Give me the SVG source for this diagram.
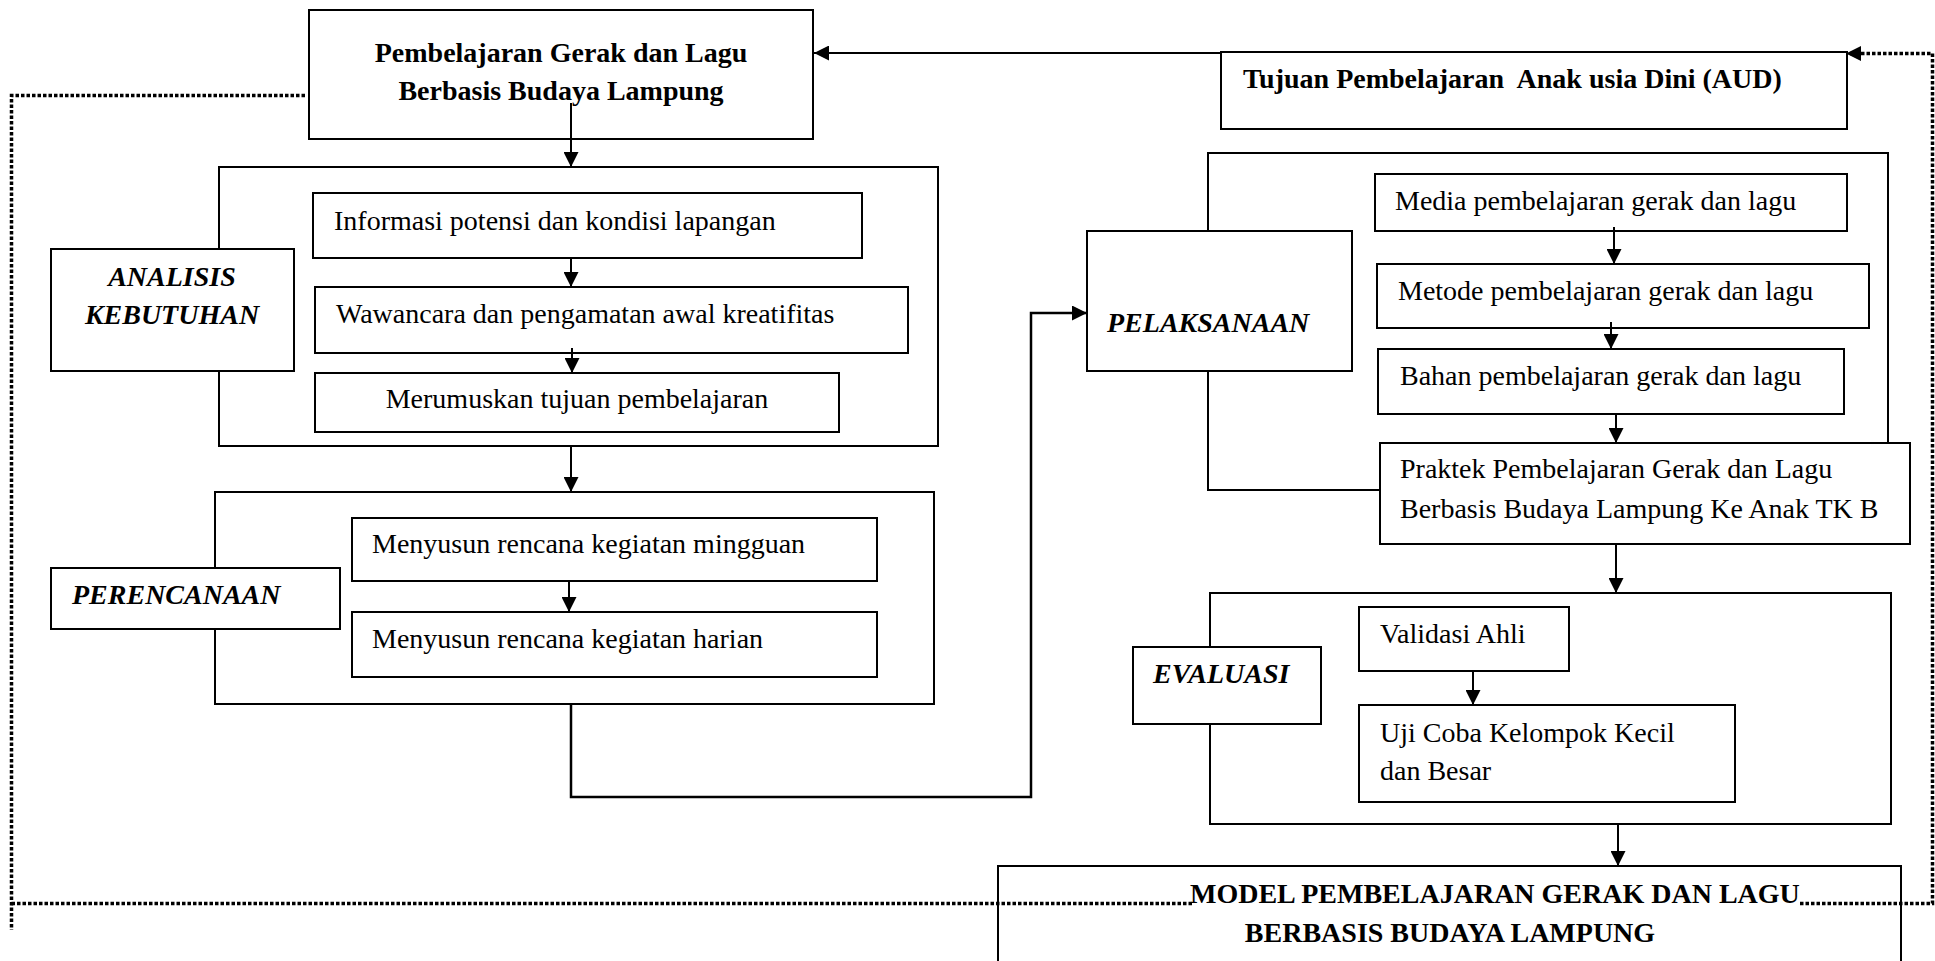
<svg xmlns="http://www.w3.org/2000/svg" width="1935" height="961" viewBox="0 0 1935 961">
<style>
.box{fill:#fff;stroke:#000;stroke-width:2}
.frame{fill:none;stroke:#000;stroke-width:2}
.con{fill:none;stroke:#000;stroke-width:2}
.dot{fill:none;stroke:#000;stroke-width:3.5;stroke-dasharray:3.5 2}
text{font-family:"Liberation Serif","Times New Roman",serif;font-size:28px;fill:#000;white-space:pre}
.b{font-weight:bold}
.bi{font-weight:bold;font-style:italic}
.c{text-anchor:middle}
</style>
<defs>
<marker id="ah" viewBox="0 0 15 15" refX="15" refY="7.5" markerWidth="15" markerHeight="15" orient="auto" markerUnits="userSpaceOnUse">
<path d="M0,0 L15,7.5 L0,15 z" fill="#000"/>
</marker>
</defs>

<g id="frames">
<rect class="frame" x="219" y="167" width="719" height="279"/>
<rect class="frame" x="215" y="492" width="719" height="212"/>
<path class="frame" d="M1380,490 L1208,490 L1208,153 L1888,153 L1888,443"/>
<rect class="frame" x="1210" y="593" width="681" height="231"/>
</g>

<g id="connectors">
<path class="con" d="M1221,53 L814,53" marker-end="url(#ah)"/>
<path class="con" d="M571,103 L571,167" marker-end="url(#ah)"/>
<path class="con" d="M571,258 L571,287" marker-end="url(#ah)"/>
<path class="con" d="M572,348 L572,373" marker-end="url(#ah)"/>
<path class="con" d="M571,446 L571,492" marker-end="url(#ah)"/>
<path class="con" d="M569,579 L569,612" marker-end="url(#ah)"/>
<path class="con" d="M571,704 L571,797 L1031,797 L1031,313 L1087,313" style="stroke-width:2.5" marker-end="url(#ah)"/>
<path class="con" d="M1614,227 L1614,264" marker-end="url(#ah)"/>
<path class="con" d="M1611,322 L1611,349" marker-end="url(#ah)"/>
<path class="con" d="M1616,414 L1616,443" marker-end="url(#ah)"/>
<path class="con" d="M1616,544 L1616,593" marker-end="url(#ah)"/>
<path class="con" d="M1473,671 L1473,705" marker-end="url(#ah)"/>
<path class="con" d="M1618,824 L1618,866" marker-end="url(#ah)"/>
<path class="dot" d="M305,95.5 L11.5,95.5 L11.5,930"/>
<path class="dot" d="M11.5,903.5 L1194,903.5"/>
<path class="dot" d="M1800,903.5 L1932.5,903.5 L1932.5,53.5 L1846,53.5" marker-end="url(#ah)"/>
</g>

<g id="n-top">
<rect class="box" x="309" y="10" width="504" height="129"/>
<text class="b c" x="561" y="62">Pembelajaran Gerak dan Lagu</text>
<text class="b c" x="561" y="100">Berbasis Budaya Lampung</text>
</g>
<line class="con" x1="571" y1="103" x2="571" y2="139"/>

<g id="n-tujuan">
<rect class="box" x="1221" y="52" width="626" height="77"/>
<text class="b" x="1243" y="88">Tujuan Pembelajaran  Anak usia Dini (AUD)</text>
</g>

<g id="n-analisis">
<rect class="box" x="51" y="249" width="243" height="122"/>
<text class="bi c" x="172" y="286">ANALISIS</text>
<text class="bi c" x="172" y="324">KEBUTUHAN</text>
</g>
<g id="n-info">
<rect class="box" x="313" y="193" width="549" height="65"/>
<text x="334" y="230">Informasi potensi dan kondisi lapangan</text>
</g>
<g id="n-wawancara">
<rect class="box" x="315" y="287" width="593" height="66"/>
<text x="336" y="323">Wawancara dan pengamatan awal kreatifitas</text>
</g>
<line class="con" x1="572" y1="348" x2="572" y2="356"/>
<g id="n-merumuskan">
<rect class="box" x="315" y="373" width="524" height="59"/>
<text class="c" x="577" y="408">Merumuskan tujuan pembelajaran</text>
</g>

<g id="n-perencanaan">
<rect class="box" x="51" y="568" width="289" height="61"/>
<text class="bi" x="72" y="604">PERENCANAAN</text>
</g>
<g id="n-mingguan">
<rect class="box" x="352" y="518" width="525" height="63"/>
<text x="372" y="553">Menyusun rencana kegiatan mingguan</text>
</g>
<g id="n-harian">
<rect class="box" x="352" y="612" width="525" height="65"/>
<text x="372" y="648">Menyusun rencana kegiatan harian</text>
</g>

<g id="n-pelaksanaan">
<rect class="box" x="1087" y="231" width="265" height="140"/>
<text class="bi" x="1107" y="332">PELAKSANAAN</text>
</g>
<g id="n-media">
<rect class="box" x="1375" y="174" width="472" height="57"/>
<text x="1395" y="210">Media pembelajaran gerak dan lagu</text>
</g>
<line class="con" x1="1614" y1="227" x2="1614" y2="232"/>
<g id="n-metode">
<rect class="box" x="1377" y="264" width="492" height="64"/>
<text x="1398" y="300">Metode pembelajaran gerak dan lagu</text>
</g>
<line class="con" x1="1611" y1="322" x2="1611" y2="329"/>
<g id="n-bahan">
<rect class="box" x="1378" y="349" width="466" height="65"/>
<text x="1400" y="385">Bahan pembelajaran gerak dan lagu</text>
</g>
<g id="n-praktek">
<rect class="box" x="1380" y="443" width="530" height="101"/>
<text x="1400" y="478">Praktek Pembelajaran Gerak dan Lagu</text>
<text x="1400" y="518">Berbasis Budaya Lampung Ke Anak TK B</text>
</g>

<g id="n-evaluasi">
<rect class="box" x="1133" y="647" width="188" height="77"/>
<text class="bi" x="1153" y="683">EVALUASI</text>
</g>
<g id="n-validasi">
<rect class="box" x="1359" y="607" width="210" height="64"/>
<text x="1380" y="643">Validasi Ahli</text>
</g>
<g id="n-ujicoba">
<rect class="box" x="1359" y="705" width="376" height="97"/>
<text x="1380" y="742">Uji Coba Kelompok Kecil</text>
<text x="1380" y="780">dan Besar</text>
</g>

<g id="n-model">
<rect class="frame" x="998" y="866" width="903" height="120"/>
<text class="b" x="1190" y="903">MODEL PEMBELAJARAN GERAK DAN LAGU</text>
<text class="b c" x="1450" y="942">BERBASIS BUDAYA LAMPUNG</text>
</g>
</svg>
